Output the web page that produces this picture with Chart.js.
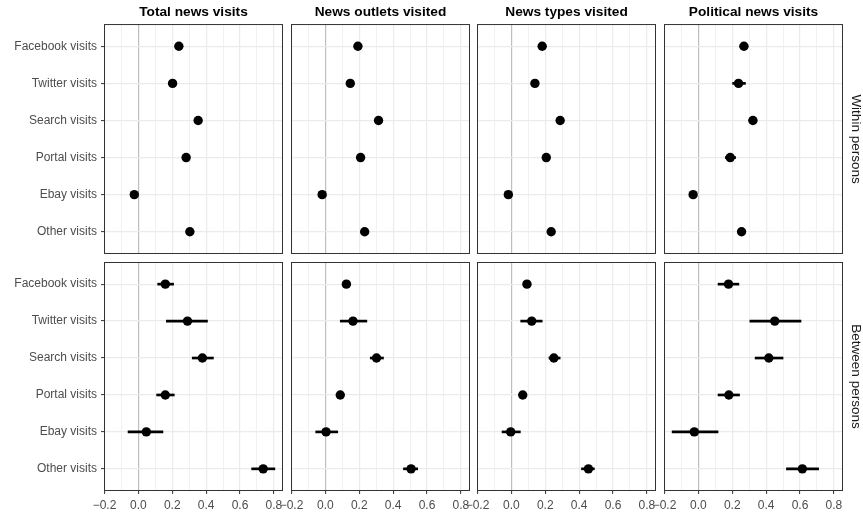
<!DOCTYPE html>
<html>
<head>
<meta charset="utf-8">
<script src="https://cdn.jsdelivr.net/npm/chart.js@4.4.1/dist/chart.umd.min.js"></script>
<style>
  body { margin: 0; background: #fff; width: 863px; height: 514px; position: relative; overflow: hidden; }
  canvas { position: absolute; }
</style>
</head>
<body>
<script>
  const categories = ["Facebook visits", "Twitter visits", "Search visits", "Portal visits", "Ebay visits", "Other visits"];
  const outcomes = ["Total news visits", "News outlets visited", "News types visited", "Political news visits"];
  const levels = ["Within persons", "Between persons"];

  const xTicks = [-0.2, -0.1, 0, 0.1, 0.2, 0.3, 0.4, 0.5, 0.6, 0.7, 0.8];
  const xTickLabels = ["\u22120.2", "", "0.0", "", "0.2", "", "0.4", "", "0.6", "", "0.8"];

  // within persons
  const totalWithin       = [0.239, 0.202, 0.353, 0.282, -0.024, 0.304];
  const totalWithinLo     = [0.224, 0.187, 0.338, 0.267, -0.039, 0.289];
  const totalWithinHi     = [0.254, 0.217, 0.368, 0.297, -0.009, 0.319];
  const outletsWithin     = [0.192, 0.147, 0.314, 0.208, -0.019, 0.232];
  const outletsWithinLo   = [0.177, 0.132, 0.299, 0.193, -0.034, 0.217];
  const outletsWithinHi   = [0.207, 0.162, 0.329, 0.223, -0.004, 0.247];
  const typesWithin       = [0.182, 0.139, 0.288, 0.206, -0.018, 0.235];
  const typesWithinLo     = [0.167, 0.124, 0.273, 0.191, -0.033, 0.220];
  const typesWithinHi     = [0.197, 0.154, 0.303, 0.221, -0.003, 0.250];
  const politicalWithin   = [0.269, 0.237, 0.322, 0.188, -0.031, 0.255];
  const politicalWithinLo = [0.246, 0.202, 0.299, 0.159, -0.051, 0.234];
  const politicalWithinHi = [0.292, 0.278, 0.345, 0.220, -0.011, 0.276];

  // between persons
  const totalBetween       = [0.159, 0.290, 0.378, 0.159, 0.047, 0.737];
  const totalBetweenLo     = [0.114, 0.165, 0.318, 0.108, -0.061, 0.669];
  const totalBetweenHi     = [0.208, 0.408, 0.443, 0.212, 0.145, 0.806];
  const outletsBetween     = [0.124, 0.163, 0.302, 0.088, 0.004, 0.506];
  const outletsBetweenLo   = [0.104, 0.088, 0.265, 0.068, -0.057, 0.461];
  const outletsBetweenHi   = [0.144, 0.245, 0.343, 0.108, 0.073, 0.545];
  const typesBetween       = [0.092, 0.120, 0.251, 0.067, -0.004, 0.455];
  const typesBetweenLo     = [0.072, 0.055, 0.222, 0.047, -0.055, 0.414];
  const typesBetweenHi     = [0.112, 0.182, 0.288, 0.087, 0.053, 0.490];
  const politicalBetween   = [0.178, 0.451, 0.416, 0.180, -0.024, 0.614];
  const politicalBetweenLo = [0.116, 0.304, 0.335, 0.116, -0.155, 0.520];
  const politicalBetweenHi = [0.239, 0.606, 0.500, 0.243, 0.116, 0.710];

  const panels = [
    [[totalWithin, totalWithinLo, totalWithinHi], [outletsWithin, outletsWithinLo, outletsWithinHi],
     [typesWithin, typesWithinLo, typesWithinHi], [politicalWithin, politicalWithinLo, politicalWithinHi]],
    [[totalBetween, totalBetweenLo, totalBetweenHi], [outletsBetween, outletsBetweenLo, outletsBetweenHi],
     [typesBetween, typesBetweenLo, typesBetweenHi], [politicalBetween, politicalBetweenLo, politicalBetweenHi]]
  ];

  const FONT = "'Liberation Sans', Arial, Helvetica, sans-serif";
  const colLeft = [104, 291, 477, 664];
  const panelW = 179;
  const rowTop = [24, 262];
  const panelH = [230, 229];

  // panel border + right strip label
  const panelFrame = {
    id: "panelFrame",
    afterDraw(chart, args, opts) {
      const { ctx, chartArea: a } = chart;
      ctx.save();
      ctx.strokeStyle = "#333333";
      ctx.lineWidth = 1;
      ctx.strokeRect(a.left + 0.5, a.top + 0.5, a.right - a.left - 1, a.bottom - a.top - 1);
      if (opts.strip) {
        ctx.translate(a.right + 13, (a.top + a.bottom) / 2);
        ctx.rotate(Math.PI / 2);
        ctx.fillStyle = "#1a1a1a";
        ctx.font = "13.5px " + FONT;
        ctx.textAlign = "center";
        ctx.textBaseline = "middle";
        ctx.fillText(opts.strip, 0, 0);
      }
      ctx.restore();
    }
  };

  function makePanel(r, c) {
    const [est, lo, hi] = panels[r][c];
    const L = c === 0 ? 104 : 16;
    const R = c === 3 ? 20 : 12;
    const T = r === 0 ? 24 : 14;
    const B = r === 1 ? 23 : 14;
    const canvas = document.createElement("canvas");
    canvas.width = L + panelW + R;
    canvas.height = T + panelH[r] + B;
    canvas.style.left = (colLeft[c] - L) + "px";
    canvas.style.top = (rowTop[r] - T) + "px";
    document.body.appendChild(canvas);

    new Chart(canvas.getContext("2d"), {
      type: "scatter",
      data: {
        datasets: [
          {
            type: "scatter",
            data: categories.map((cat, i) => ({ x: est[i], y: i + 1 })),
            pointRadius: 4.7,
            pointBackgroundColor: "#000",
            pointBorderWidth: 0,
            order: 0
          },
          {
            type: "bar",
            indexAxis: "y",
            data: categories.map((cat, i) => ({ x: [lo[i], hi[i]], y: i + 1 })),
            barThickness: 2,
            backgroundColor: "#000",
            borderWidth: 0,
            order: 1
          }
        ]
      },
      options: {
        responsive: false,
        animation: false,
        events: [],
        layout: { padding: { left: 0, right: R, top: r === 1 ? T : 0, bottom: 0 } },
        plugins: {
          legend: { display: false },
          tooltip: { enabled: false },
          title: {
            display: r === 0,
            text: outcomes[c],
            fullSize: false,
            color: "#000",
            font: { family: FONT, size: 13.7, weight: "bold", lineHeight: 1.2 },
            padding: { top: 4, bottom: 3.6 }
          },
          panelFrame: { strip: c === 3 ? levels[r] : null }
        },
        scales: {
          x: {
            type: "linear",
            min: -0.203,
            max: 0.854,
            offset: false,
            afterBuildTicks: s => { s.ticks = xTicks.map(v => ({ value: v })); },
            afterFit: s => { s.height = B; },
            border: { display: false },
            grid: {
              offset: false,
              drawTicks: r === 1,
              tickLength: 3,
              tickWidth: 1,
              tickColor: ctx => ctx.index % 2 ? "rgba(0,0,0,0)" : "#333333",
              color: ctx => ctx.tick && ctx.tick.value === 0 ? "#bebebe" : "#ebebeb",
              lineWidth: ctx => ctx.tick && ctx.tick.value === 0 ? 1.2 : (ctx.index % 2 ? 0.7 : 1.2)
            },
            ticks: {
              display: r === 1,
              autoSkip: false,
              maxRotation: 0,
              padding: 4,
              color: "#4d4d4d",
              font: { family: FONT, size: 12 },
              callback: (v, i) => xTickLabels[i]
            }
          },
          y: {
            type: "linear",
            reverse: true,
            min: 0.4,
            max: 6.6,
            offset: false,
            afterBuildTicks: s => { s.ticks = categories.map((cat, i) => ({ value: i + 1 })); },
            afterFit: s => { s.width = L; },
            border: { display: false },
            grid: {
              offset: false,
              drawTicks: c === 0,
              tickLength: 3,
              tickWidth: 1,
              tickColor: "#333333",
              color: "#ebebeb",
              lineWidth: 1.2
            },
            ticks: {
              display: c === 0,
              autoSkip: false,
              padding: 4,
              color: "#4d4d4d",
              font: { family: FONT, size: 12 },
              callback: (v, i) => categories[i]
            }
          }
        }
      },
      plugins: [panelFrame]
    });
  }

  for (let r = 0; r < 2; r++) {
    for (let c = 0; c < 4; c++) makePanel(r, c);
  }
</script>
</body>
</html>
